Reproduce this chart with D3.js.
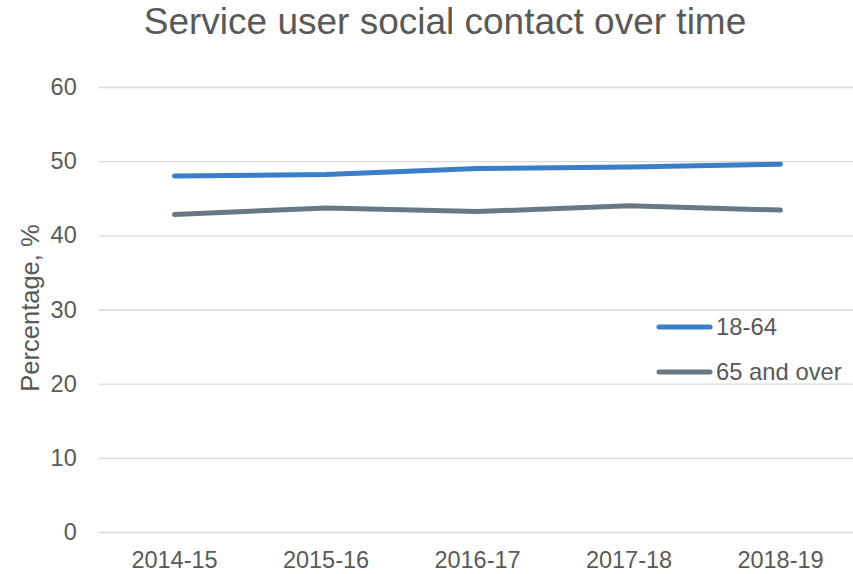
<!DOCTYPE html>
<html>
<head>
<meta charset="utf-8">
<script src="https://cdn.jsdelivr.net/npm/d3@7"></script>
<style>
  html, body { margin: 0; padding: 0; background: #fff; }
  svg { display: block; font-family: "Liberation Sans", Arial, sans-serif; }
</style>
</head>
<body>
<svg id="chart" width="853" height="574"></svg>
<script>
// Survey periods and the share of service users with as much social contact as they would like
const years = ["2014-15", "2015-16", "2016-17", "2017-18", "2018-19"];
const age18to64 = [48.0, 48.2, 49.0, 49.2, 49.6];
const age65plus = [42.8, 43.7, 43.2, 44.0, 43.4];
const seriesNames = ["18-64", "65 and over"];
const seriesColors = ["#3A7DC8", "#687884"];
const yTicks = [0, 10, 20, 30, 40, 50, 60];

const svg = d3.select("#chart");
const textColor = "#595959";
const gridColor = "#D9D9D9";

const plot = { left: 98.75, right: 856.25, top: 87, bottom: 532 };

const x = d3.scaleBand().domain(years).range([plot.left, plot.right]);
const y = d3.scaleLinear().domain([0, 60]).range([plot.bottom, plot.top]);

// Title
svg.append("text")
  .attr("x", 445).attr("y", 34)
  .attr("text-anchor", "middle")
  .attr("font-size", 37)
  .attr("fill", textColor)
  .text("Service user social contact over time");

// Horizontal gridlines with value labels
const yAxis = d3.axisLeft(y).tickValues(yTicks)
  .tickSize(-(plot.right - plot.left)).tickPadding(22);
const gy = svg.append("g").attr("transform", `translate(${plot.left},0)`).call(yAxis);
gy.select(".domain").remove();
gy.selectAll(".tick line").attr("stroke", gridColor).attr("stroke-width", 1.3);
gy.selectAll(".tick text").attr("fill", textColor).attr("font-size", 23.5)
  .attr("font-family", "Liberation Sans, Arial, sans-serif");

// Category labels
const xAxis = d3.axisBottom(x).tickSize(0).tickPadding(19);
const gx = svg.append("g").attr("transform", `translate(0,${plot.bottom})`).call(xAxis);
gx.select(".domain").remove();
gx.selectAll(".tick text").attr("fill", textColor).attr("font-size", 23.5)
  .attr("font-family", "Liberation Sans, Arial, sans-serif");

// Y axis title
svg.append("text")
  .attr("transform", "translate(39,308) rotate(-90)")
  .attr("text-anchor", "middle")
  .attr("font-size", 25.5)
  .attr("fill", textColor)
  .text("Percentage, %");

// Series lines
const line = d3.line()
  .x((d, i) => x(years[i]) + x.bandwidth() / 2)
  .y(d => y(d));

[age18to64, age65plus].forEach((vals, k) => {
  svg.append("path")
    .datum(vals)
    .attr("d", line)
    .attr("fill", "none")
    .attr("stroke", seriesColors[k])
    .attr("stroke-width", 5)
    .attr("stroke-linecap", "round")
    .attr("stroke-linejoin", "round");
});

// Legend
const legend = svg.append("g");
seriesNames.forEach((name, k) => {
  const ly = 327 + k * 45;
  legend.append("line")
    .attr("x1", 659).attr("x2", 710)
    .attr("y1", ly).attr("y2", ly)
    .attr("stroke", seriesColors[k])
    .attr("stroke-width", 5)
    .attr("stroke-linecap", "round");
  legend.append("text")
    .attr("x", 716).attr("y", ly)
    .attr("dy", "0.35em")
    .attr("font-size", 23.8)
    .attr("fill", textColor)
    .text(name);
});
</script>
</body>
</html>
